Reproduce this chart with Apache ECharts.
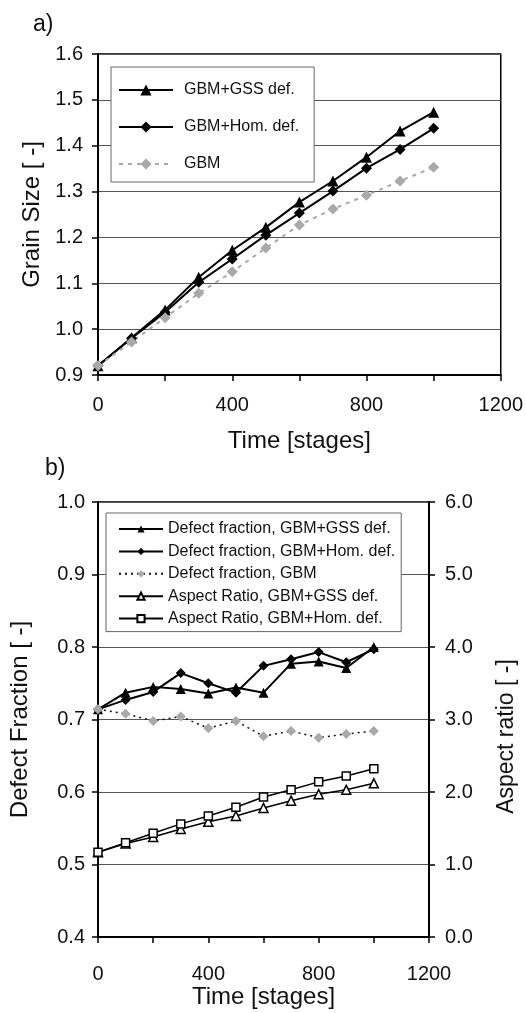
<!DOCTYPE html>
<html>
<head>
<meta charset="utf-8">
<script src="https://cdn.jsdelivr.net/npm/echarts@6/dist/echarts.min.js"></script>
<style>
  html, body { margin: 0; padding: 0; background: #fff; }
  #chart { width: 526px; height: 1013px; }
</style>
</head>
<body>
<div id="chart"></div>
<script>
// time axis (stages)
const stages = [0, 100, 200, 300, 400, 500, 600, 700, 800, 900, 1000]
const xTickLabels = ['0', '400', '800', '1200']

// a) grain size
const grainGss = [0.92, 0.981, 1.042, 1.113, 1.172, 1.222, 1.277, 1.323, 1.375, 1.432, 1.473]
const grainHom = [0.92, 0.98, 1.037, 1.102, 1.153, 1.205, 1.253, 1.301, 1.351, 1.392, 1.438]
const grainGbm = [0.92, 0.972, 1.025, 1.078, 1.125, 1.177, 1.227, 1.262, 1.292, 1.323, 1.353]

// b) defect fraction (left axis) and aspect ratio (right axis)
const defectGss = [0.714, 0.737, 0.745, 0.742, 0.736, 0.744, 0.737, 0.777, 0.780, 0.771, 0.800]
const defectHom = [0.714, 0.727, 0.738, 0.764, 0.750, 0.737, 0.774, 0.783, 0.793, 0.779, 0.797]
const defectGbm = [0.714, 0.708, 0.698, 0.704, 0.688, 0.698, 0.677, 0.684, 0.675, 0.680, 0.684]
const aspectGss = [1.17, 1.29, 1.38, 1.49, 1.59, 1.67, 1.78, 1.88, 1.97, 2.03, 2.12]
const aspectHom = [1.17, 1.30, 1.43, 1.56, 1.67, 1.79, 1.93, 2.03, 2.14, 2.22, 2.32]

const FONT = 'Liberation Sans'
const GREY = '#a9a9a9'
const pairs = (ys) => stages.map((t, i) => [t, ys[i]])

const xAxisBase = (gridIndex, labelMargin, nameGap) => ({
  type: 'value',
  gridIndex,
  min: 0,
  max: 1200,
  interval: 200,
  name: 'Time [stages]',
  nameLocation: 'middle',
  nameGap,
  nameTextStyle: { fontSize: 24, color: '#111', fontFamily: FONT },
  axisLine: { show: true, lineStyle: { color: '#000', width: 2 } },
  axisTick: { show: true, length: 6, lineStyle: { color: '#000', width: 1.5 } },
  axisLabel: {
    fontSize: 20, color: '#111', fontFamily: FONT, margin: labelMargin,
    formatter: (v) => xTickLabels.includes(String(v)) ? String(v) : ''
  },
  splitLine: { show: false }
})

const yAxisBase = (gridIndex, min, max, interval, name, nameGap, labelMargin) => ({
  type: 'value',
  gridIndex,
  min, max, interval,
  name,
  nameLocation: 'middle',
  nameGap,
  nameTextStyle: { fontSize: 24, color: '#111', fontFamily: FONT },
  axisLine: { show: true, lineStyle: { color: '#000', width: 2 } },
  axisTick: { show: true, length: 6, lineStyle: { color: '#000', width: 1.5 } },
  axisLabel: {
    fontSize: 20, color: '#111', fontFamily: FONT, margin: labelMargin,
    formatter: (v) => v.toFixed(1)
  },
  splitLine: { show: true, lineStyle: { color: '#555', width: 1 } }
})

const lineSeries = (name, xi, yi, ys, opts) => ({
  name,
  type: 'line',
  xAxisIndex: xi,
  yAxisIndex: yi,
  data: pairs(ys),
  symbol: opts.symbol,
  symbolSize: opts.size,
  showAllSymbol: true,
  lineStyle: { color: opts.line || '#000', width: opts.width || 2, type: opts.dash || 'solid' },
  itemStyle: {
    color: opts.fill || '#000',
    borderColor: opts.border || opts.fill || '#000',
    borderWidth: opts.border ? 1.5 : 0
  },
  emphasis: { disabled: true },
  animation: false
})

const chart = echarts.init(document.getElementById('chart'))

chart.setOption({
  backgroundColor: '#fff',
  animation: false,
  title: [
    { text: 'a)', left: 28, top: 8, textStyle: { fontSize: 23, fontWeight: 'normal', color: '#111', fontFamily: FONT } },
    { text: 'b)', left: 40, top: 452, textStyle: { fontSize: 23, fontWeight: 'normal', color: '#111', fontFamily: FONT } }
  ],
  grid: [
    { left: 98, top: 54, width: 403, height: 321, show: true, borderColor: '#000', borderWidth: 1.5 },
    { left: 98, top: 502, width: 339, height: 435, show: true, borderColor: '#000', borderWidth: 1.5 }
  ],
  legend: [
    {
      data: ['GBM+GSS def.', 'GBM+Hom. def.', 'GBM'],
      orient: 'vertical',
      left: 111,
      top: 67,
      itemWidth: 54,
      itemHeight: 14,
      itemGap: 21,
      padding: [15, 15, 10, 7],
      backgroundColor: '#fff',
      borderColor: '#666',
      borderWidth: 1,
      borderRadius: 0,
      textStyle: { fontSize: 16, color: '#111', fontFamily: FONT, padding: [0, 0, 0, 6] },
      selectedMode: false
    },
    {
      data: [
        'Defect fraction, GBM+GSS def.',
        'Defect fraction, GBM+Hom. def.',
        'Defect fraction, GBM',
        'Aspect Ratio, GBM+GSS def.',
        'Aspect Ratio, GBM+Hom. def.'
      ],
      orient: 'vertical',
      left: 106,
      top: 513,
      itemWidth: 44,
      itemHeight: 9,
      itemGap: 6.4,
      padding: [8, 6, 5, 12],
      backgroundColor: '#fff',
      borderColor: '#666',
      borderWidth: 1,
      borderRadius: 0,
      textStyle: { fontSize: 16, color: '#111', fontFamily: FONT },
      selectedMode: false
    }
  ],
  xAxis: [xAxisBase(0, 20, 54), xAxisBase(1, 27, 39)],
  yAxis: [
    yAxisBase(0, 0.9, 1.6, 0.1, 'Grain Size [ -]', 46, 15),
    yAxisBase(1, 0.4, 1.0, 0.1, 'Defect Fraction [ -]', 66, 13),
    Object.assign(yAxisBase(1, 0, 6, 1, 'Aspect ratio [ -]', 66, 16), {
      position: 'right',
      splitLine: { show: false },
      nameTextStyle: { fontSize: 23, color: '#111', fontFamily: FONT, padding: [0, 34, 0, 0] }
    })
  ],
  series: [
    lineSeries('GBM+GSS def.', 0, 0, grainGss, { symbol: 'triangle', size: 11 }),
    lineSeries('GBM+Hom. def.', 0, 0, grainHom, { symbol: 'diamond', size: 11 }),
    lineSeries('GBM', 0, 0, grainGbm, { symbol: 'diamond', size: 11, fill: GREY, line: GREY, dash: [4, 5] }),
    lineSeries('Defect fraction, GBM+GSS def.', 1, 1, defectGss, { symbol: 'triangle', size: 10 }),
    lineSeries('Defect fraction, GBM+Hom. def.', 1, 1, defectHom, { symbol: 'diamond', size: 10 }),
    lineSeries('Defect fraction, GBM', 1, 1, defectGbm, { symbol: 'diamond', size: 10, fill: GREY, line: '#111', width: 1.5, dash: [2, 4] }),
    lineSeries('Aspect Ratio, GBM+GSS def.', 1, 2, aspectGss, { symbol: 'triangle', size: 9, fill: '#fff', border: '#000', width: 1.5 }),
    lineSeries('Aspect Ratio, GBM+Hom. def.', 1, 2, aspectHom, { symbol: 'rect', size: 8, fill: '#fff', border: '#000', width: 1.5 })
  ]
})
</script>
</body>
</html>
